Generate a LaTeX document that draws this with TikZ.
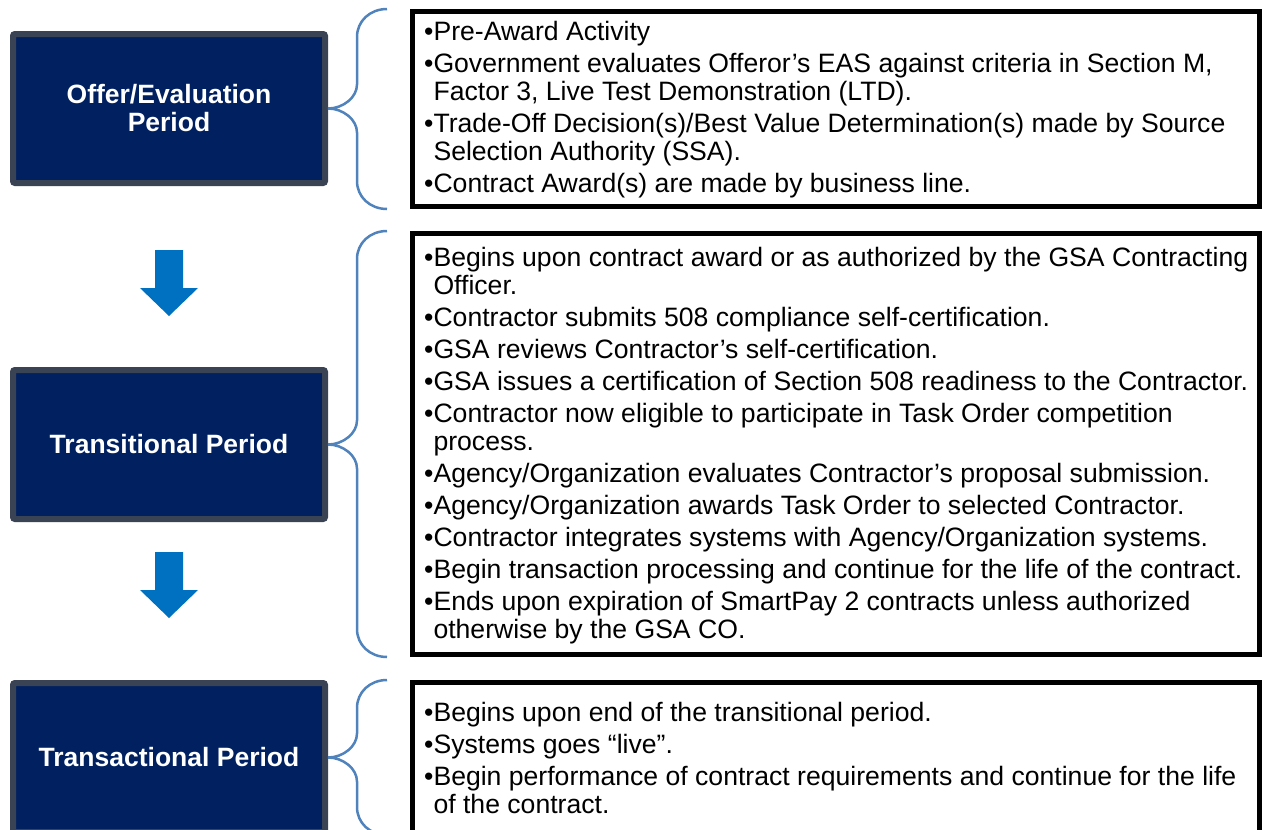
\documentclass[tikz,border=0pt]{standalone}
\usepackage{fontspec}
\setmainfont{Liberation Sans}
\usepackage{tikz}
\usetikzlibrary{calc}
\definecolor{navy}{HTML}{002060}
\definecolor{boxedge}{HTML}{3A4353}
\definecolor{arrowblue}{HTML}{0070C0}
\definecolor{bracecol}{HTML}{5082BC}
\newcommand{\itm}{\textbullet}
\newcommand{\cnt}{\hphantom{\textbullet}}
\newcommand{\phasebrace}[3]{%
    \draw[bracestyle] let \p1=(#1), \p2=(#2), \p3=(#3) in
        (\x2-23pt,\y2) .. controls (\x2-40pt,\y2) and (\x2-53pt,\y2-12pt) .. (\x2-53pt,\y2-28pt)
        -- (\x2-53pt,\y1+24pt) .. controls (\x2-53pt,\y1+11pt) and (\x2-67pt,\y1) .. (\x1,\y1)
        .. controls (\x2-67pt,\y1) and (\x2-53pt,\y1-11pt) .. (\x2-53pt,\y1-24pt)
        -- (\x2-53pt,\y3+28pt) .. controls (\x2-53pt,\y3+12pt) and (\x2-40pt,\y3) .. (\x2-23pt,\y3);}
\tikzset{%
    periodbox/.style={draw=boxedge, fill=navy, line width=6pt, rounded corners=2pt, minimum width=312pt, minimum height=149pt, text=white, align=center, font=\bfseries\fontsize{26.5}{28}\selectfont},
    detailbox/.style={draw=black, line width=5pt, minimum width=847pt},
    detailtext/.style={anchor=west, inner sep=0pt, align=left, font=\fontsize{26.6}{28}\selectfont},
    bracestyle/.style={draw=bracecol, line width=2.5pt},
    downarrow/.style={fill=arrowblue}
}

\begin{document}
\begin{tikzpicture}[x=1pt, y=-1pt]
        \useasboundingbox (0,0) rectangle (1262,830);

        \node[periodbox] (offer) at (169,108.5) {Offer/Evaluation\\Period};
        \node[periodbox] (trans) at (169,444.5) {Transitional Period};
        \node[periodbox] (act) at (169,757.5) {Transactional Period};

        \node[detailbox, minimum height=195pt] (d1) at (836,109) {};
        \node[detailbox, minimum height=421pt] (d2) at (836,444) {};
        \node[detailbox, minimum height=150pt] (d3) at (836,757.5) {};

        \node[detailtext] (t1) at (424,110) {\itm Pre-Award Activity\\[4pt]
            \itm Government evaluates Offeror’s EAS against criteria in Section M,\\
            \cnt Factor 3, Live Test Demonstration (LTD).\\[4pt]
            \itm Trade-Off Decision(s)/Best Value Determination(s) made by Source\\
            \cnt Selection Authority (SSA).\\[4pt]
            \itm Contract Award(s) are made by business line.};
        \node[detailtext] (t2) at (424,446) {\itm Begins upon contract award or as authorized by the GSA Contracting\\
            \cnt Officer.\\[4pt]
            \itm Contractor submits 508 compliance self-certification.\\[4pt]
            \itm GSA reviews Contractor’s self-certification.\\[4pt]
            \itm GSA issues a certification of Section 508 readiness to the Contractor.\\[4pt]
            \itm Contractor now eligible to participate in Task Order competition\\
            \cnt process.\\[4pt]
            \itm Agency/Organization evaluates Contractor’s proposal submission.\\[4pt]
            \itm Agency/Organization awards Task Order to selected Contractor.\\[4pt]
            \itm Contractor integrates systems with Agency/Organization systems.\\[4pt]
            \itm Begin transaction processing and continue for the life of the contract.\\[4pt]
            \itm Ends upon expiration of SmartPay 2 contracts unless authorized\\
            \cnt otherwise by the GSA CO.};
        \node[detailtext] (t3) at (424,758) {\itm Begins upon end of the transitional period.\\[4pt]
            \itm Systems goes “live”.\\[4pt]
            \itm Begin performance of contract requirements and continue for the life\\
            \cnt of the contract.};

        \phasebrace{offer.east}{d1.north west}{d1.south west}
        \phasebrace{trans.east}{d2.north west}{d2.south west}
        \phasebrace{act.east}{d3.north west}{d3.south west}

        \foreach \ay in {250,552}
            \fill[downarrow] (155,\ay) -- (183,\ay) -- (183,\ay+38) -- (198,\ay+38) -- (169,\ay+66) -- (140,\ay+38) -- (155,\ay+38) -- cycle;
\end{tikzpicture}
\end{document}
